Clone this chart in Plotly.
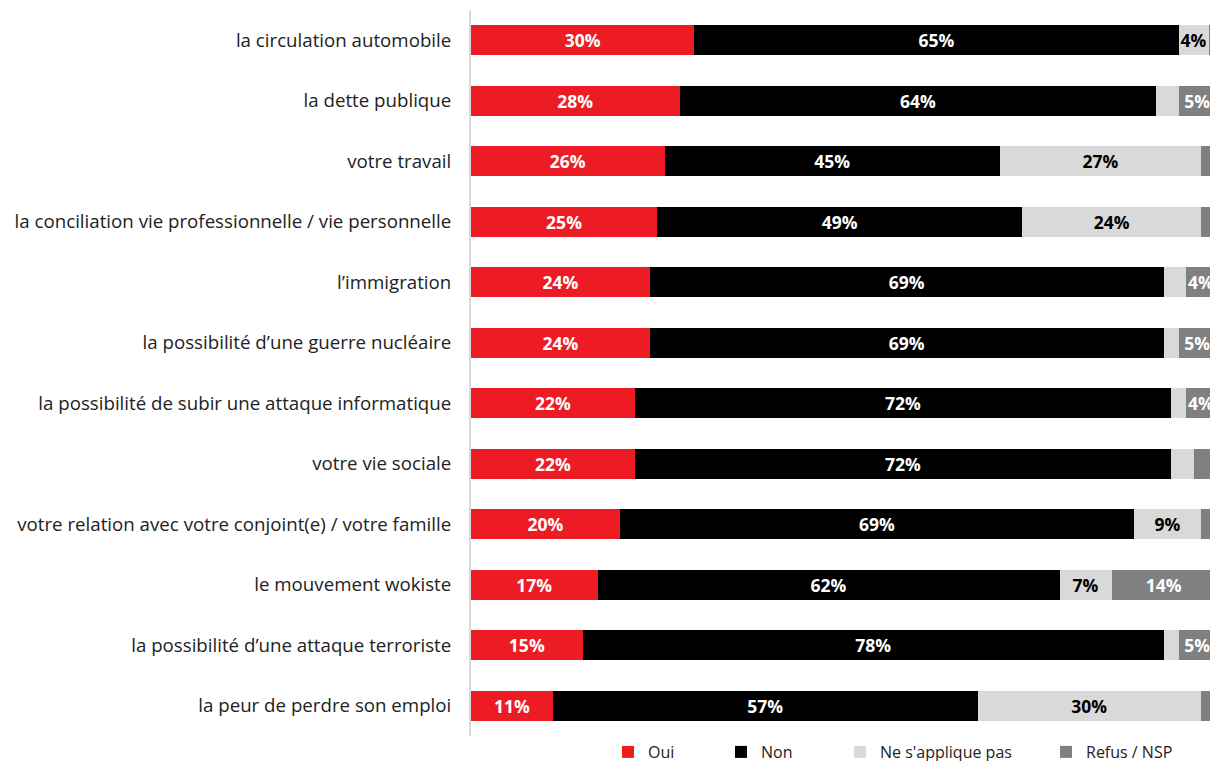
import plotly.graph_objects as go

categories = [
    "la circulation automobile",
    "la dette publique",
    "votre travail",
    "la conciliation vie professionnelle / vie personnelle",
    "l\u2019immigration",
    "la possibilit\u00e9 d\u2019une guerre nucl\u00e9aire",
    "la possibilit\u00e9 de subir une attaque informatique",
    "votre vie sociale",
    "votre relation avec votre conjoint(e) / votre famille",
    "le mouvement wokiste",
    "la possibilit\u00e9 d\u2019une attaque terroriste",
    "la peur de perdre son emploi",
]
oui = [30, 28, 26, 25, 24, 24, 22, 22, 20, 17, 15, 11]
non = [65, 64, 45, 49, 69, 69, 72, 72, 69, 62, 78, 57]
nsp_app = [4, 3, 27, 24, 3, 2, 2, 3, 9, 7, 2, 30]
refus = [1, 5, 2, 2, 4, 5, 4, 3, 2, 14, 5, 2]

series = [
    ("Oui", oui, "#ED1C24", "white"),
    ("Non", non, "#000000", "white"),
    ("Ne s'applique pas", nsp_app, "#D9D9D9", "black"),
    ("Refus / NSP", refus, "#808080", "white"),
]
# left pixel position of each legend swatch in the reference
legend_px = [628, 741, 860, 1066]

W, H = 1210, 761

fig = go.Figure()
for i, (name, vals, color, tcol) in enumerate(series):
    texts = [f"{v}%" if v >= 4 else "" for v in vals]
    fig.add_trace(go.Bar(
        y=categories, x=vals, name=name, orientation="h",
        marker=dict(color=color, line=dict(width=0)),
        text=texts, textposition="inside", insidetextanchor="middle",
        textangle=0,
        textfont=dict(color=tcol, size=17.5, family="Open Sans", weight="bold"),
        constraintext="none",
        legend="legend" if i == 0 else f"legend{i+1}",
    ))

layout_legends = {}
for i, px in enumerate(legend_px):
    key = "legend" if i == 0 else f"legend{i+1}"
    layout_legends[key] = dict(
        orientation="h", xref="container", yref="container",
        x=(px - 20) / W, xanchor="left",
        y=(H - 752) / H, yanchor="middle",
        font=dict(size=16, family="Open Sans", color="#222"),
        bgcolor="rgba(0,0,0,0)", itemwidth=30, borderwidth=0,
    )

fig.update_layout(
    barmode="stack",
    bargap=0.5,
    width=W, height=H,
    margin=dict(l=471, r=0, t=10, b=25, autoexpand=False),
    paper_bgcolor="white", plot_bgcolor="white",
    showlegend=True,
    xaxis=dict(range=[0, 99.2], visible=False, fixedrange=True),
    yaxis=dict(autorange="reversed", showline=True, linecolor="#D9D9D9",
               linewidth=2, ticks="", ticklabelstandoff=14,
               tickfont=dict(size=18.7, family="Open Sans", color="#222")),
    uniformtext=dict(minsize=10, mode="show"),
    **layout_legends,
)
fig.write_html(
    "out.html",
    config={"displayModeBar": False},
    post_script="document.body.style.margin='0';document.body.style.overflow='hidden';",
)
